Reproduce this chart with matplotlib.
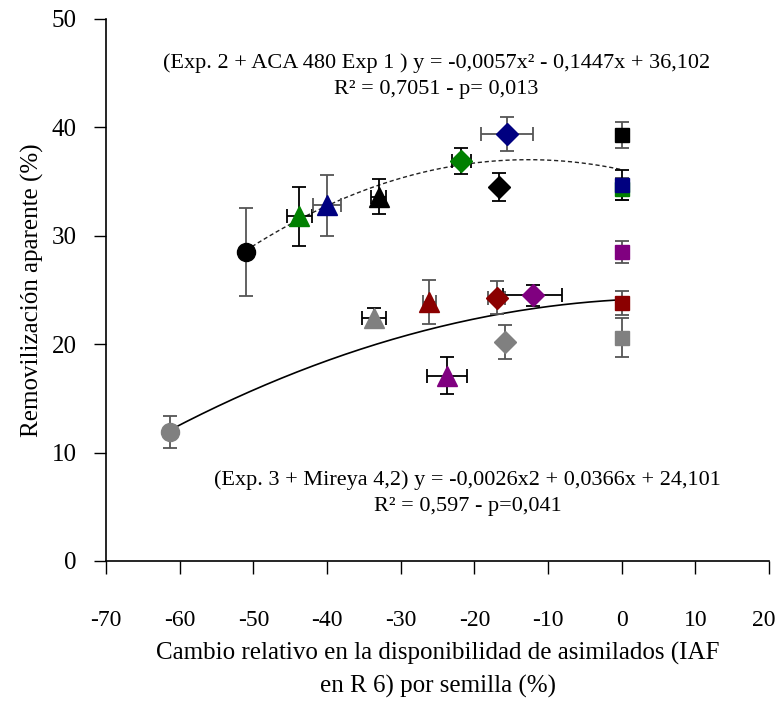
import matplotlib
matplotlib.use("Agg")
import matplotlib.pyplot as plt
import matplotlib.transforms as mtransforms
import numpy as np

plt.rcParams['font.family'] = ['Liberation Serif', 'DejaVu Serif']

# Upper group (Exp. 2 + ACA 480 Exp 1)
up_x    = [-51.0, -43.8, -40.0, -33.0, -21.8, -15.6, -16.6, 0.0, 0.0, 0.0]
up_y    = [28.5, 31.8, 32.8, 33.6, 36.9, 39.4, 34.5, 39.3, 34.3, 34.7]
up_yerr = [4.1, 2.7, 2.8, 1.6, 1.2, 1.6, 1.3, 1.2, 1.0, 1.4]
up_xerr = [0.0, 1.7, 1.9, 1.0, 1.3, 3.5, 0.0, 0.0, 0.0, 0.0]
up_mark = ['o', '^', '^', '^', 'D', 'D', 'D', 's', 's', 's']
up_col  = ['black', 'green', 'navy', 'black', 'green', 'navy', 'black', 'black', 'green', 'navy']
up_ecol = ['#555555', 'black', '#555555', 'black', 'black', '#555555', 'black', '#555555', '#555555', 'black']

# Lower group (Exp. 3 + Mireya 4,2)
lo_x    = [-61.3, -33.6, -26.1, -23.7, -17.0, -12.1, -15.9, 0.0, 0.0, 0.0]
lo_y    = [11.9, 22.4, 23.9, 17.1, 24.3, 24.5, 20.2, 28.5, 23.8, 20.6]
lo_yerr = [1.5, 0.9, 2.0, 1.7, 1.5, 1.0, 1.6, 1.0, 1.1, 1.8]
lo_xerr = [0.0, 1.6, 0.9, 2.7, 1.1, 4.0, 0.4, 0.0, 0.0, 0.0]
lo_mark = ['o', '^', '^', '^', 'D', 'D', 'D', 's', 's', 's']
lo_col  = ['gray', 'gray', 'darkred', 'purple', 'darkred', 'purple', 'gray', 'purple', 'darkred', 'gray']
lo_ecol = ['#555555', 'black', '#555555', 'black', '#555555', 'black', '#555555', '#555555', '#555555', '#555555']

# Quadratic fit coefficients (a, b, c) and fitted ranges
up_coef = [-0.0057, -0.1447, 36.102]
lo_coef = [-0.0026, 0.0366, 24.101]
up_range = [-51.0, 0.0]
lo_range = [-61.3, 0.0]

x_ticks = [-70, -60, -50, -40, -30, -20, -10, 0, 10, 20]
y_ticks = [0, 10, 20, 30, 40, 50]

fig = plt.figure(figsize=(7.8, 7.03), dpi=100)
ax = fig.add_axes([0.136, 0.202, 0.850, 0.771])

# Fitted curves
xu = np.linspace(up_range[0], up_range[1], 200)
ax.plot(xu, np.polyval(up_coef, xu), linestyle=(0, (3, 2)), color='#222222', lw=1.0, zorder=2)
xl = np.linspace(lo_range[0], lo_range[1], 200)
ax.plot(xl, np.polyval(lo_coef, xl), color='black', lw=1.2, zorder=2)

sizes = {'o': 13, '^': 14, 'D': 11, 's': 9.5}

def draw(xs, ys, yerr, xerr, marks, cols, ecols):
    for x, y, ye, xe, m, c, ec in zip(xs, ys, yerr, xerr, marks, cols, ecols):
        ax.errorbar(x, y, yerr=ye, xerr=xe if xe > 0 else None, fmt='none',
                    ecolor=ec, elinewidth=1.3, capsize=5, capthick=1.3, zorder=3)
        ax.plot(x, y, marker=m, color=c, markersize=sizes[m], linestyle='none', zorder=4)

draw(up_x, up_y, up_yerr, up_xerr, up_mark, up_col, up_ecol)
draw(lo_x, lo_y, lo_yerr, lo_xerr, lo_mark, lo_col, lo_ecol)

ax.set_xlim(-70, 20)
ax.set_ylim(0, 50)
ax.set_xticks(x_ticks)
ax.set_yticks(y_ticks)
ax.set_xticklabels([str(v) for v in x_ticks])
ax.set_yticklabels([str(v) for v in y_ticks])
ax.spines['top'].set_visible(False)
ax.spines['right'].set_visible(False)
for s in ('left', 'bottom'):
    ax.spines[s].set_linewidth(1.2)
ax.tick_params(axis='x', direction='out', length=9, width=1.0, labelsize=17, pad=26)
ax.tick_params(axis='y', direction='out', length=9, width=1.0, labelsize=18, pad=12)

# nudge the last x tick label inward so it stays inside the figure
last = ax.get_xticklabels()[-1]
last.set_transform(last.get_transform() +
                   mtransforms.ScaledTranslation(-5 / 100, 0, fig.dpi_scale_trans))

ax.set_ylabel('Removilización aparente (%)', fontsize=18, labelpad=6)
ax.set_xlabel('Cambio relativo en la disponibilidad de asimilados (IAF\nen R 6) por semilla (%)',
              fontsize=18, labelpad=8, linespacing=1.55)

ax.text(-25.2, 45.9, '(Exp. 2 + ACA 480 Exp 1 ) y = -0,0057x² - 0,1447x + 36,102',
        ha='center', va='center', fontsize=16)
ax.text(-25.2, 43.5, 'R² = 0,7051 - p= 0,013', ha='center', va='center', fontsize=16)
ax.text(-20.9, 7.5, '(Exp. 3 + Mireya 4,2) y = -0,0026x2 + 0,0366x + 24,101',
        ha='center', va='center', fontsize=16)
ax.text(-20.9, 5.0, 'R² = 0,597 - p=0,041', ha='center', va='center', fontsize=16)

fig.savefig('out.png', dpi=100)
